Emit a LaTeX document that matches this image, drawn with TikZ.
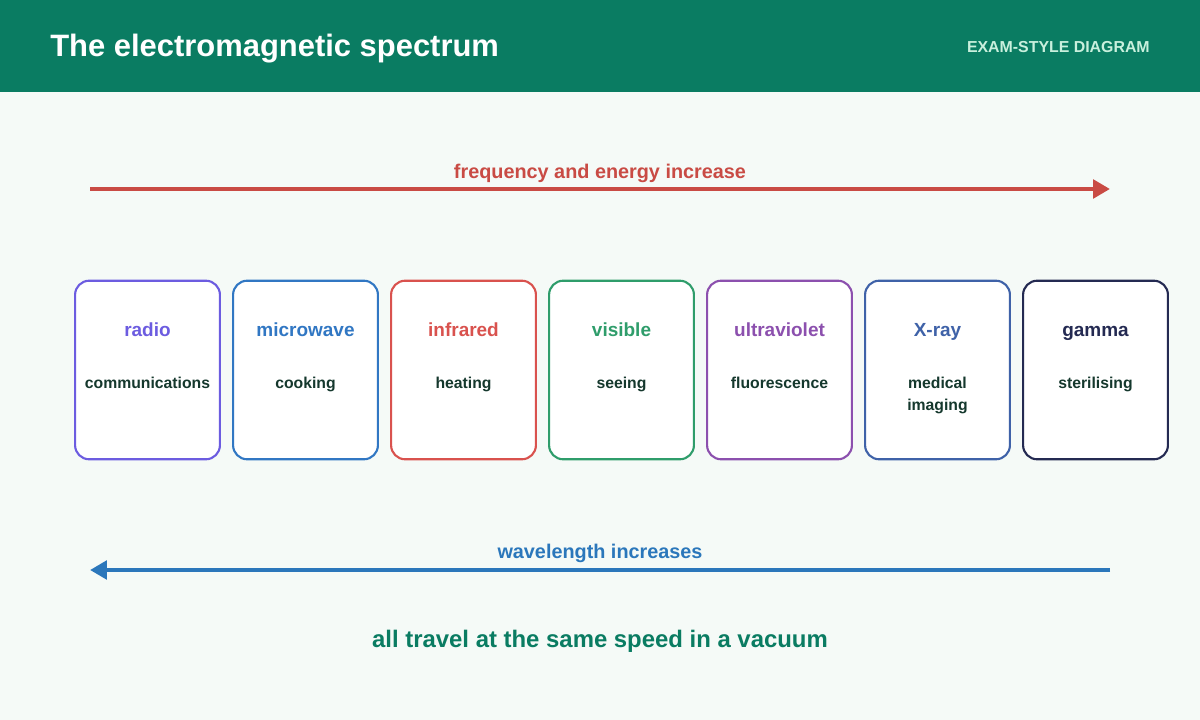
\documentclass[tikz,border=0pt]{standalone}
\usepackage{fontspec}
\setmainfont{Liberation Sans}
\usetikzlibrary{arrows.meta}

\definecolor{headgreen}{HTML}{0A7C62}
\definecolor{pagebg}{HTML}{F5FAF7}
\definecolor{tagmint}{HTML}{C9F0DD}
\definecolor{usetext}{HTML}{15382D}
\definecolor{upred}{HTML}{C94B44}
\definecolor{downblue}{HTML}{2B77BB}
\definecolor{cradio}{HTML}{6C5CE0}
\definecolor{cmicro}{HTML}{3177C3}
\definecolor{cinfra}{HTML}{D9524E}
\definecolor{cvisib}{HTML}{2F9D6B}
\definecolor{cultra}{HTML}{8C50AE}
\definecolor{cxray}{HTML}{3F62A8}
\definecolor{cgamma}{HTML}{242A52}

\tikzset{
  band/.style={draw=#1, line width=1.5pt, fill=white, rounded corners=10pt,
    minimum width=103pt, minimum height=127pt, inner sep=0pt},
  bandname/.style={font=\bfseries\fontsize{13.5}{16}\selectfont, text=#1, anchor=base, inner sep=0pt},
  banduse/.style={font=\bfseries\fontsize{11.2}{15.5}\selectfont, text=usetext, align=center, anchor=north},
  bigarrow/.style={draw=#1, line width=3.2pt, -{Triangle[length=12pt,width=13pt]}},
  arrowlabel/.style={font=\bfseries\fontsize{14.1}{17}\selectfont, text=#1, anchor=base, inner sep=0pt}
}

\begin{document}
\begin{tikzpicture}[x=0.025cm, y=-0.025cm]

\fill[pagebg] (0,0) rectangle (1200,720);
\fill[headgreen] (0,0) rectangle (1200,92);
\node[anchor=base west, inner sep=0pt, text=white, font=\bfseries\fontsize{22}{26}\selectfont] (title) at (50,57) {The electromagnetic spectrum};
\node[anchor=base east, inner sep=0pt, text=tagmint, font=\bfseries\fontsize{11.3}{13}\selectfont] (tag) at (1150,52.5) {EXAM-STYLE DIAGRAM};

% frequency arrow
\coordinate (fleft) at (90,189);
\coordinate (fright) at (1110,189);
\draw[bigarrow=upred] (fleft) -- (fright);
\node[arrowlabel=upred] (flabel) at (600,178.5) {frequency and energy increase};

% the seven bands
\foreach \i/\nm/\col/\use in {0/radio/cradio/communications, 1/microwave/cmicro/cooking,
    2/infrared/cinfra/heating, 3/visible/cvisib/seeing, 4/ultraviolet/cultra/fluorescence,
    5/X-ray/cxray/{medical\\imaging}, 6/gamma/cgamma/sterilising} {
  \node[band=\col] (b\i) at (147.5+158*\i,370) {};
  \node[bandname=\col] (n\i) at (147.5+158*\i,336.5) {\nm};
  \node[banduse] (u\i) at (147.5+158*\i,372.5) {\use};
}

% wavelength arrow
\coordinate (wright) at (1110,570);
\coordinate (wleft) at (90,570);
\draw[bigarrow=downblue] (wright) -- (wleft);
\node[arrowlabel=downblue] (wlabel) at (600,558.5) {wavelength increases};

\node[anchor=base, inner sep=0pt, text=headgreen, font=\bfseries\fontsize{17}{20}\selectfont] (speed) at (600,647) {all travel at the same speed in a vacuum};

\end{tikzpicture}
\end{document}
